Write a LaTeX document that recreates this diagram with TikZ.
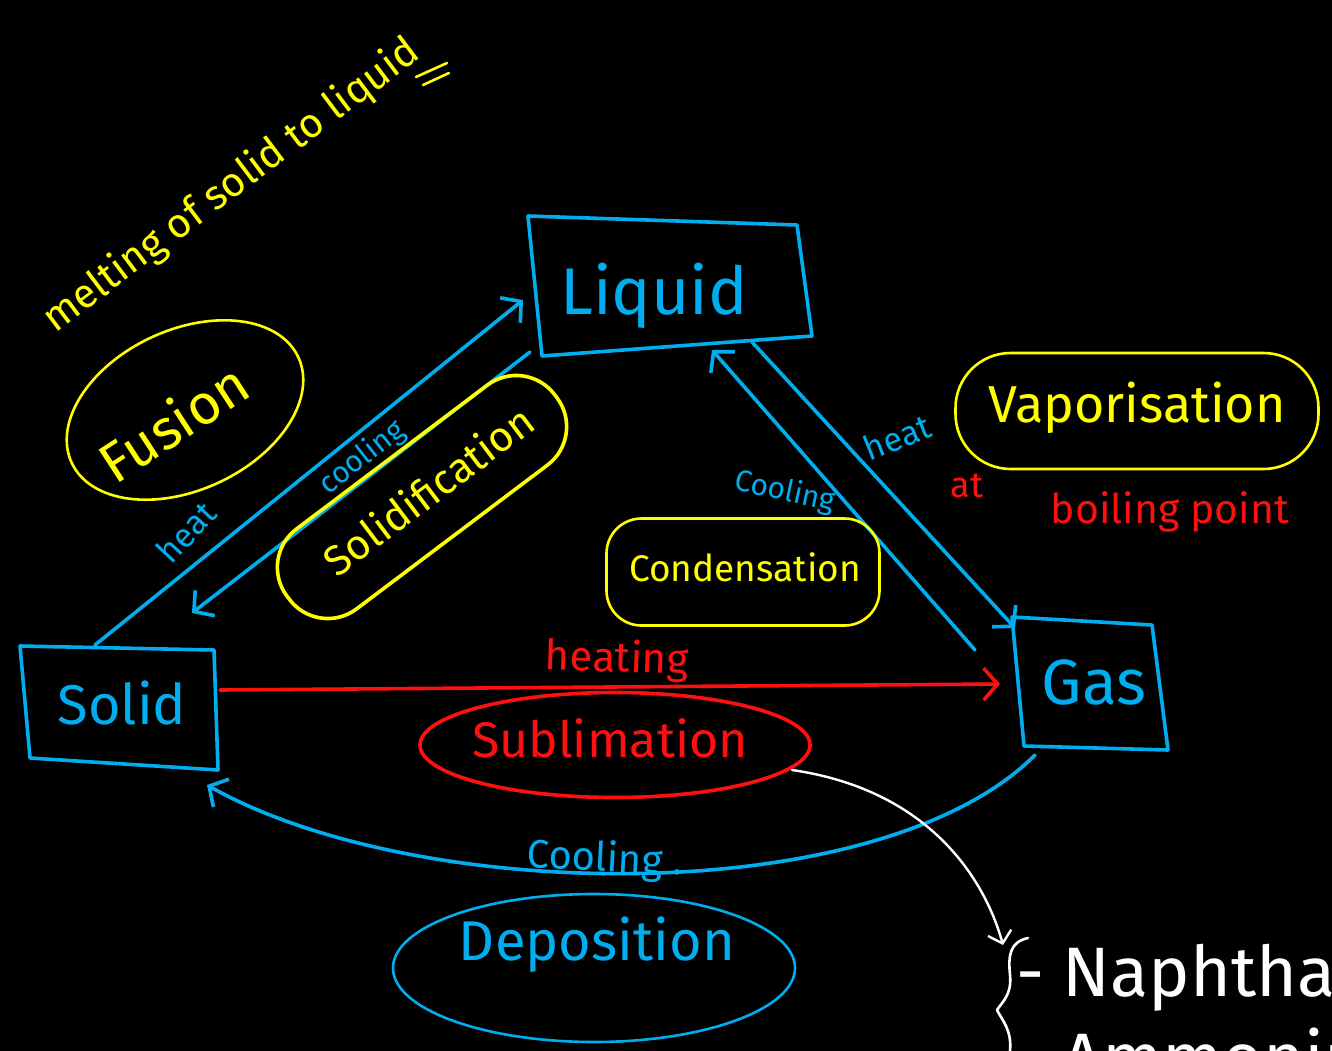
\documentclass[tikz,border=0pt]{standalone}
\usepackage{fontspec}
\setmainfont{Fira Sans}
\usetikzlibrary{arrows.meta,shapes.geometric}
\definecolor{cblue}{HTML}{00AEEF}
\definecolor{cyel}{HTML}{FFFF00}
\definecolor{cred}{HTML}{FF1010}
\begin{document}
\begin{tikzpicture}[x=1pt,y=-1pt,line cap=round,line join=round,
  pen/.style={line width=3.6pt},
  thinpen/.style={line width=2.6pt},
  fs/.style={font=\fontsize{#1}{#1}\selectfont},
  txt/.style={inner sep=0pt,outer sep=0pt},
  tip/.style={-{Straight Barb[length=14pt,width=32pt,line width=3.6pt]}},
  wtip/.style={-{Straight Barb[length=11pt,width=24pt,line width=2.4pt]}},
  boxline/.style={pen,cblue}]
\fill[black] (0,0) rectangle (1332,1051);
\clip (0,0) rectangle (1332,1051);

% ---------- boxes ----------
\coordinate (L1) at (528,216); \coordinate (L2) at (797,225);
\coordinate (L3) at (812,336); \coordinate (L4) at (542,356);
\draw[boxline] (L1) -- (L2) -- (L3) -- (L4) -- cycle;
\node[txt,fs=66,text=cblue] (liquid) at (654,296) {Liquid};

\coordinate (S1) at (20,646); \coordinate (S2) at (214,650);
\coordinate (S3) at (218,770); \coordinate (S4) at (30,758);
\draw[boxline] (S1) -- (S2) -- (S3) -- (S4) -- cycle;
\node[txt,fs=56,text=cblue] (solid) at (122,703) {Solid};

\coordinate (G1) at (1012,617); \coordinate (G2) at (1152,625);
\coordinate (G3) at (1168,750); \coordinate (G4) at (1024,746);
\draw[boxline] (G1) -- (G2) -- (G3) -- (G4) -- cycle;
\node[txt,fs=64,text=cblue] (gas) at (1094,682) {Gas};

% ---------- connector end points ----------
\coordinate (sUp) at (95,645);    \coordinate (lIn) at (523,300);
\coordinate (lOut) at (530,352);  \coordinate (sIn) at (192,613);
\coordinate (lR) at (752,342);    \coordinate (gIn) at (1015,628);
\coordinate (gOut) at (975,650);  \coordinate (lBot) at (712,350);
\coordinate (sR) at (220,690);    \coordinate (gL) at (1000,684);
\coordinate (gB) at (1035,755);   \coordinate (sB) at (207,785);

% ---------- connectors ----------
\draw[pen,cblue,tip] (sUp) -- (lIn);
\draw[pen,cblue,tip] (lOut) -- (sIn);
\draw[pen,cblue,tip] (lR) -- (gIn);
\draw[pen,cblue,tip] (gOut) -- (lBot);
\draw[pen,cred,tip] (sR) -- (gL);
\draw[pen,cblue,tip] (gB) .. controls (880,910) and (420,905) .. (sB);

% ---------- connector labels ----------
\node[txt,fs=34,text=cblue,rotate=47] (heat1) at (186,532) {heat};
\node[txt,fs=30,text=cblue,rotate=38] (cool1) at (362,458) {cooling};
\node[txt,fs=34,text=cblue,rotate=22] (heat2) at (897,437) {heat};
\node[txt,fs=30,text=cblue,rotate=-12] (cool2) at (785,492) {Cooling};
\node[txt,fs=42,text=cred,rotate=-2] (heating) at (617,660) {heating};
\node[txt,fs=40,text=cblue,rotate=-3] (cool3) at (605,860) {Cooling .};

% ---------- process names ----------
\node[draw=cyel,thinpen,ellipse,minimum width=250pt,minimum height=160pt,rotate=25] (fusionE) at (185,410) {};
\node[txt,fs=56,text=cyel,rotate=33] (fusion) at (173,422) {Fusion};

\node[draw=cyel,pen,rectangle,rounded corners=48pt,minimum width=335pt,minimum height=100pt,rotate=37] (solidifE) at (422,497) {};
\node[txt,fs=42,text=cyel,rotate=37] (solidif) at (428,490) {Solidification};

\node[draw=cyel,thinpen,rectangle,rounded corners=55pt,minimum width=363pt,minimum height=116pt] (vapE) at (1137,411) {};
\node[txt,fs=52,text=cyel] (vap) at (1137,408) {Vaporisation};
\node[txt,fs=36,text=cred] (at) at (967,486) {at};
\node[txt,fs=41,text=cred] (boil) at (1170,512) {boiling point};

\node[draw=cyel,thinpen,rectangle,rounded corners=35pt,minimum width=273pt,minimum height=107pt] (condE) at (743,572) {};
\node[txt,fs=37,text=cyel] (cond) at (745,567) {Condensation};

\node[draw=cred,pen,ellipse,minimum width=390pt,minimum height=105pt] (sublE) at (615,745) {};
\node[txt,fs=50,text=cred] (subl) at (610,738) {Sublimation};

\node[draw=cblue,thinpen,ellipse,minimum width=402pt,minimum height=148pt] (depE) at (594,968) {};
\node[txt,fs=56,text=cblue] (dep) at (597,945) {Deposition};

% ---------- note at top left ----------
\node[txt,fs=41,text=cyel,rotate=37] (melt) at (232,186) {melting of solid to liquid};
\coordinate (u1a) at (416,77); \coordinate (u1b) at (447,63);
\coordinate (u2a) at (423,85); \coordinate (u2b) at (449,73);
\draw[thinpen,cyel] (u1a) -- (u1b);
\draw[thinpen,cyel] (u2a) -- (u2b);

% ---------- examples ----------
\coordinate (wStart) at (792,770); \coordinate (wEnd) at (1003,945);
\draw[line width=2.4pt,white,wtip] (wStart) .. controls (930,790) and (985,880) .. (wEnd);
\coordinate (b1) at (1028,938); \coordinate (b2) at (1010,975);
\coordinate (b3) at (997,1010); \coordinate (b4) at (1010,1051);
\draw[thinpen,white] (b1) .. controls (1010,942) and (1008,955) .. (b2)
  .. controls (1012,995) and (1002,1002) .. (b3)
  .. controls (1002,1020) and (1012,1030) .. (b4);
\node[txt,fs=70,text=white,anchor=base west] (ex1) at (1016,996) {- Naphthalene};
\node[txt,fs=70,text=white,anchor=base west] (ex2) at (1016,1082) {- Ammonium chloride};
\end{tikzpicture}
\end{document}
